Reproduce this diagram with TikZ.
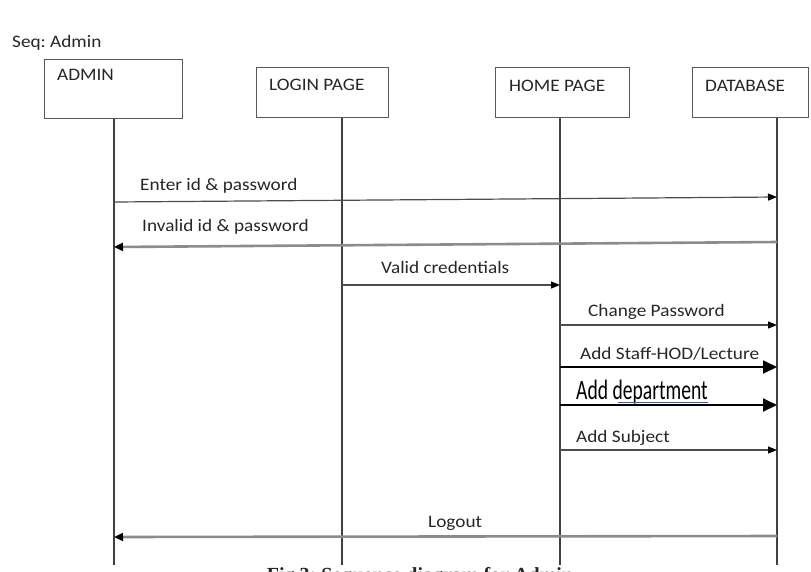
\documentclass[tikz,border=0pt]{standalone}
\usepackage{fontspec}
\setmainfont[FakeStretch=1.1]{Carlito}
\newfontfamily\narrowfont[FakeStretch=0.7]{Carlito}
\newfontfamily\capfont{Liberation Serif}
\usetikzlibrary{arrows.meta}
\definecolor{ulblue}{RGB}{70,90,140}
\frenchspacing
\begin{document}
\begin{tikzpicture}[x=1pt,y=-1pt,
	every node/.style={font=\fontsize{17.5}{20}\selectfont,text=black!85,inner sep=0pt},
	box/.style={draw=black!65,line width=1.3pt,anchor=north west},
	life/.style={draw=black!75,line width=1.1pt},
	msg/.style={draw=black!70,line width=1.2pt,-{Triangle[length=9pt,width=7pt,color=black]}},
	msgbold/.style={draw=black,line width=1.8pt,-{Triangle[length=14pt,width=13pt]}},
	msgpale/.style={draw=black!45,line width=2.6pt,-{Triangle[length=9pt,width=8pt,color=black]}}]
		\useasboundingbox (0,0) rectangle (811,571);
		% title
		\node[anchor=base west] (title) at (12,47) {Seq: Admin};
		% objects
		\node[box,minimum width=138pt,minimum height=59pt] (admin) at (44,59) {};
		\node[box,minimum width=132pt,minimum height=50pt] (login) at (256,67) {};
		\node[box,minimum width=134pt,minimum height=50pt] (home) at (495,67) {};
		\node[box,minimum width=116pt,minimum height=50pt] (db) at (692,67) {};
		\node[anchor=base west] (admin-txt) at ([shift={(13,21)}]admin.north west) {ADMIN};
		\node[anchor=base west] (login-txt) at ([shift={(13,23)}]login.north west) {LOGIN PAGE};
		\node[anchor=base west] (home-txt) at ([shift={(14,24)}]home.north west) {HOME PAGE};
		\node[anchor=base west] (db-txt) at ([shift={(13,24)}]db.north west) {DATABASE};
		% lifelines
		\foreach \n/\x in {admin/114,login/342,home/560,db/777}
			\coordinate (\n-end) at (\x,565);
		\foreach \n in {admin,login,home,db}
			\draw[life] (\n.south -| \n-end) -- (\n-end);
		% message ends
		\foreach \m/\xa/\ya/\xb/\yb in {enter/114/202/777/197,invalid/777/242/114/247,
				valid/342/285/560/285,chpw/560/325/777/325,staff/560/367/777/367,
				dept/560/405/777/405,subj/560/450/777/450,logout/777/536/114/537} {
			\coordinate (\m-from) at (\xa,\ya);
			\coordinate (\m-to) at (\xb,\yb);
		}
		% messages
		\draw[msg] (enter-from) -- (enter-to);
		\draw[msgpale] (invalid-from) -- (invalid-to);
		\draw[msg] (valid-from) -- (valid-to);
		\draw[msg] (chpw-from) -- (chpw-to);
		\draw[msgbold] (staff-from) -- (staff-to);
		\draw[msgbold] (dept-from) -- (dept-to);
		\draw[msg] (subj-from) -- (subj-to);
		\draw[msgpale] (logout-from) -- (logout-to);
		% labels
		\node[anchor=base west] (enter-txt) at (140,190) {Enter id \& password};
		\node[anchor=base west] (invalid-txt) at (142,231) {Invalid id \& password};
		\node[anchor=base west] (valid-txt) at (381,273) {Valid credentials};
		\node[anchor=base west] (chpw-txt) at (588,316) {Change Password};
		\node[anchor=base west] (staff-txt) at (580,359) {Add Staff-HOD/Lecture};
		\node[anchor=base west,font=\narrowfont\fontsize{28}{30}\selectfont,text=black]
			(dept-txt) at (576,399) {Add department};
		\draw[ulblue,line width=0.8pt] (618,402.5) -- (708,402.5);
		\node[anchor=base west] (subj-txt) at (576,442) {Add Subject};
		\node[anchor=base west] (logout-txt) at (428,527) {Logout};
		% caption, cut by the page edge
		\begin{scope}
			\clip (0,0) rectangle (811,571);
			\node[anchor=north,font=\capfont\bfseries\fontsize{20}{24}\selectfont]
				(caption) at (420,567.5) {Fig 3: Sequence diagram for Admin};
		\end{scope}
	\end{tikzpicture}
\end{document}
